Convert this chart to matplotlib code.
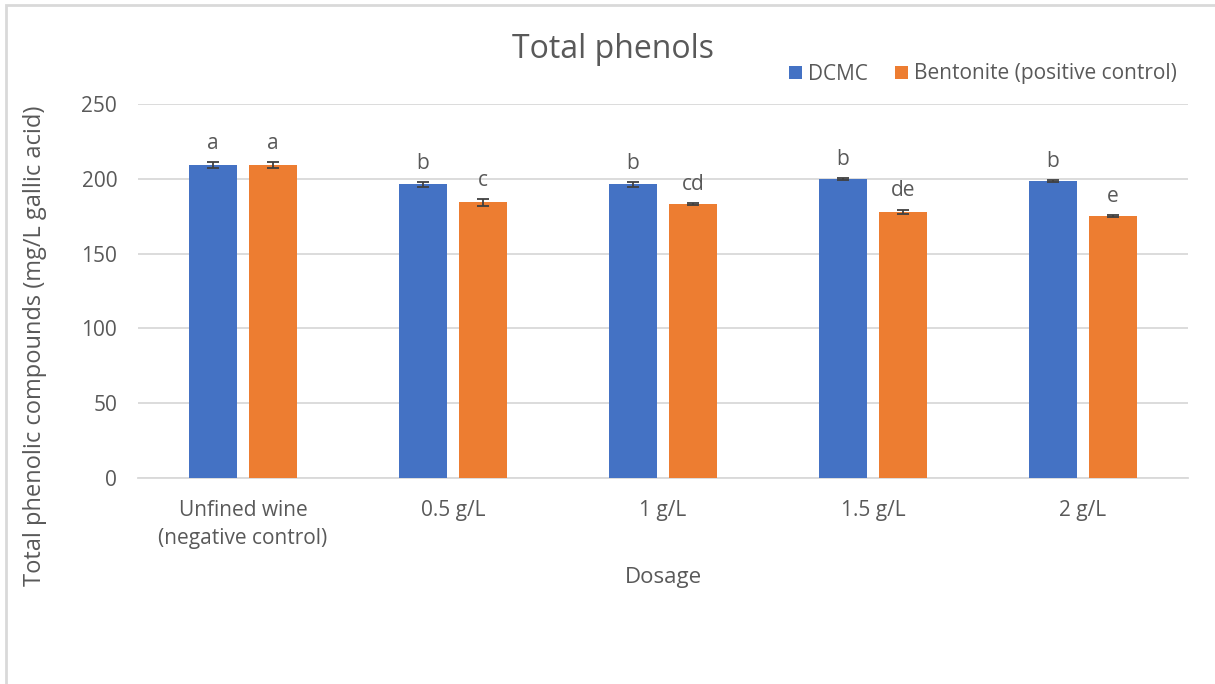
import numpy as np
import matplotlib.pyplot as plt
from matplotlib.patches import Rectangle

# data
dosages = ["Unfined wine\n(negative control)", "0.5 g/L", "1 g/L", "1.5 g/L", "2 g/L"]
dcmc = [209.2, 196.3, 196.3, 199.8, 198.5]
dcmc_err = [2.0, 1.6, 1.5, 0.8, 0.8]
bentonite = [209.2, 184.3, 183.0, 178.0, 175.0]
bentonite_err = [2.0, 2.2, 0.7, 1.3, 0.8]
dcmc_letters = ["a", "b", "b", "b", "b"]
bentonite_letters = ["a", "c", "cd", "de", "e"]

plt.rcParams['font.family'] = ['Open Sans', 'DejaVu Sans']
txt = '#595959'
blue = '#4472C4'
orange = '#ED7D31'

fig = plt.figure(figsize=(12.15, 6.84), dpi=100)
fig.patches.append(Rectangle((6/1215, -0.1), 1.2, (684-5)/684 + 0.1, transform=fig.transFigure,
                             fill=False, edgecolor='#D9D9D9', linewidth=2))
ax = fig.add_axes([138/1215, 206/684, 1050/1215, 374/684])

x = np.arange(len(dosages))
w = 0.229
off = 0.143
ekw = dict(ecolor='#404040', elinewidth=1.3, capsize=4, capthick=1.3)
ax.bar(x - off, dcmc, w, yerr=dcmc_err, color=blue, error_kw=ekw, label='DCMC', zorder=3)
ax.bar(x + off, bentonite, w, yerr=bentonite_err, color=orange, error_kw=ekw,
       label='Bentonite (positive control)', zorder=3)

for i in range(len(x)):
    ax.annotate(dcmc_letters[i], (x[i] - off, dcmc[i] + dcmc_err[i]), xytext=(0, 6),
                textcoords='offset points', ha='center', va='bottom', fontsize=15, color=txt)
    ax.annotate(bentonite_letters[i], (x[i] + off, bentonite[i] + bentonite_err[i]), xytext=(0, 6),
                textcoords='offset points', ha='center', va='bottom', fontsize=15, color=txt)

ax.set_xlim(-0.5, len(x) - 0.5)
ax.set_ylim(0, 250)
ax.set_yticks(np.arange(0, 251, 50))
ax.yaxis.grid(True, color='#D9D9D9', linewidth=1.3, zorder=0)
ax.set_axisbelow(True)
for s in ['top', 'right', 'left']:
    ax.spines[s].set_visible(False)
ax.spines['bottom'].set_color('#D9D9D9')
ax.spines['bottom'].set_linewidth(1.3)
ax.tick_params(axis='both', length=0, colors=txt, labelsize=15)
ax.tick_params(axis='y', pad=15)
ax.tick_params(axis='x', pad=16)
ax.set_xticks(x)
ax.set_xticklabels(dosages, linespacing=1.45)

fig.text(613/1215, 1 - 50/684, 'Total phenols', ha='center', va='center', fontsize=23, color=txt)
fig.text(663/1215, 1 - 578/684, 'Dosage', ha='center', va='center', fontsize=16, color=txt)
fig.text(35/1215, 1 - 346/684, 'Total phenolic compounds (mg/L gallic acid)', rotation=90,
         ha='center', va='center', fontsize=17, color=txt)

ax.legend(loc='center', bbox_to_anchor=(983/1215, 1 - 74/684), bbox_transform=fig.transFigure,
          ncol=2, frameon=False, fontsize=15, labelcolor=txt, handlelength=0.6, handleheight=0.6,
          handletextpad=0.3, columnspacing=1.3)

fig.savefig('out.png', dpi=100)
